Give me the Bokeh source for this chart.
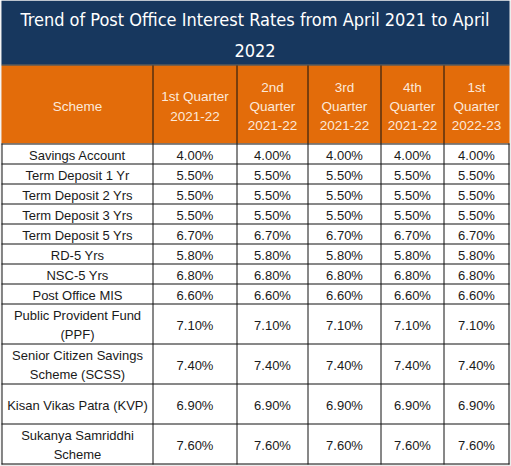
from bokeh.plotting import figure
from bokeh.models import ColumnDataSource, Range1d
from bokeh.core.properties import value
from bokeh.embed import file_html
from bokeh.resources import INLINE

# ---------------- data ----------------
title = "Trend of Post Office Interest Rates from April 2021 to April\n2022"
header = ["Scheme", "1st Quarter\n2021-22", "2nd\nQuarter\n2021-22", "3rd\nQuarter\n2021-22",
          "4th\nQuarter\n2021-22", "1st\nQuarter\n2022-23"]
schemes = ["Savings Account", "Term Deposit 1 Yr", "Term Deposit 2 Yrs", "Term Deposit 3 Yrs",
           "Term Deposit 5 Yrs", "RD-5 Yrs", "NSC-5 Yrs", "Post Office MIS",
           "Public Provident Fund\n(PPF)", "Senior Citizen Savings\nScheme (SCSS)",
           "Kisan Vikas Patra (KVP)", "Sukanya Samriddhi\nScheme"]
q1_2021_22 = [4.00, 5.50, 5.50, 5.50, 6.70, 5.80, 6.80, 6.60, 7.10, 7.40, 6.90, 7.60]
q2_2021_22 = [4.00, 5.50, 5.50, 5.50, 6.70, 5.80, 6.80, 6.60, 7.10, 7.40, 6.90, 7.60]
q3_2021_22 = [4.00, 5.50, 5.50, 5.50, 6.70, 5.80, 6.80, 6.60, 7.10, 7.40, 6.90, 7.60]
q4_2021_22 = [4.00, 5.50, 5.50, 5.50, 6.70, 5.80, 6.80, 6.60, 7.10, 7.40, 6.90, 7.60]
q1_2022_23 = [4.00, 5.50, 5.50, 5.50, 6.70, 5.80, 6.80, 6.60, 7.10, 7.40, 6.90, 7.60]
quarters = [q1_2021_22, q2_2021_22, q3_2021_22, q4_2021_22, q1_2022_23]

# ---------------- layout (style) ----------------
NAVY = "#17375E"
ORANGE = "#E36C0A"
HEAD_TXT = "#FCE9DA"
BODY_TXT = "#1A1A1A"
col_edges = [1, 152, 236, 307, 380, 443, 508]
title_top, title_bot = 0, 64
head_top, head_bot = 65, 143
tall_from = 8
row_h = 20

row_edges = [head_bot]
for i in range(len(schemes)):
    row_edges.append(row_edges[-1] + (2 if i >= tall_from else 1) * row_h)

W, H = 511, 466
p = figure(width=W, height=H, output_backend="svg", toolbar_location=None,
           x_range=Range1d(0, W), y_range=Range1d(H, 0), min_border=0)
p.axis.visible = False
p.grid.visible = False
p.outline_line_color = None
p.background_fill_color = "#ECECEC"
p.border_fill_color = "white"

left, right = col_edges[0], col_edges[-1]
# title band
p.quad(left=[left], right=[right + 1], top=[title_top], bottom=[title_bot],
       fill_color=NAVY, line_color=None)
# header band
p.quad(left=[left], right=[right + 1], top=[head_top], bottom=[head_bot],
       fill_color=ORANGE, line_color=None)
# body background
p.quad(left=[left], right=[right], top=[head_bot], bottom=[row_edges[-1]],
       fill_color="white", line_color=None)

# grid lines
x0s, y0s, x1s, y1s = [], [], [], []
for y in [title_bot] + row_edges:
    x0s.append(left); x1s.append(right + 1); y0s.append(y + 0.5); y1s.append(y + 0.5)
for i, x in enumerate(col_edges):
    top = head_bot if i in (0, len(col_edges) - 1) else head_top
    x0s.append(x + 0.5); x1s.append(x + 0.5); y0s.append(top); y1s.append(row_edges[-1] + 1)
p.segment(x0=x0s, y0=y0s, x1=x1s, y1=y1s, line_color="#111111", line_width=1)

# title text (two lines)
title_lines = title.split("\n")
tx = (left + right) / 2
p.text(x=[tx] * len(title_lines), y=[19 + 31 * k for k in range(len(title_lines))],
       text=title_lines,
       text_font=value("DejaVu Sans Condensed"), text_font_size="18px", text_color="white",
       text_align="center", text_baseline="middle")

# header text
hx = [(col_edges[i] + col_edges[i + 1]) / 2 + 0.5 for i in range(len(header))]
hy = [(head_top + head_bot) / 2 + 2] * len(header)
p.text(x=hx, y=hy, text=header, text_font=value("Liberation Sans"), text_font_size="13.5px",
       text_color=HEAD_TXT, text_align="center", text_baseline="middle", text_line_height=1.29)

# body text
cx = (col_edges[0] + col_edges[1]) / 2 + 0.5
ry = [(row_edges[i] + row_edges[i + 1]) / 2 + 1.5 for i in range(len(schemes))]
src = ColumnDataSource(dict(x=[cx] * len(schemes), y=ry, t=schemes))
p.text(x="x", y="y", text="t", source=src, text_font=value("Liberation Sans"),
       text_font_size="13px", text_color=BODY_TXT, text_align="center",
       text_baseline="middle", text_line_height=1.3)

for j, q in enumerate(quarters):
    xs = [(col_edges[j + 1] + col_edges[j + 2]) / 2 + 0.5] * len(q)
    p.text(x=xs, y=ry, text=[f"{v:.2f}%" for v in q], text_font=value("Liberation Sans"),
           text_font_size="13px", text_color=BODY_TXT, text_align="center",
           text_baseline="middle")

open("out.html", "w").write(file_html(p, INLINE))
